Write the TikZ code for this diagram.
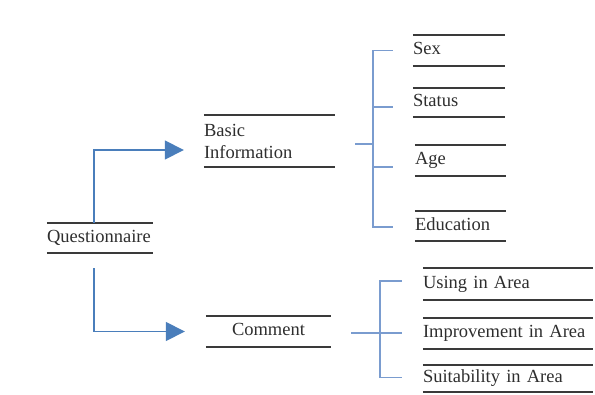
\documentclass[tikz,border=0pt]{standalone}
\usepackage{fontspec}
\setmainfont{Liberation Serif}
\usetikzlibrary{arrows.meta,calc}
\definecolor{ink}{HTML}{2E2E2E}
\definecolor{barc}{HTML}{3A3A3A}
\definecolor{arrowblue}{HTML}{4A7EBB}
\definecolor{brkblue}{HTML}{7A9CCF}
\tikzset{
  barline/.style={draw=barc,line width=2.2pt},
  bar/.style 2 args={minimum width=#1,text width=#1,minimum height=#2,inner sep=0pt,
    align=left,text=ink,font=\fontsize{18.5}{22}\selectfont,
    append after command={(\tikzlastnode.north west) edge[barline] (\tikzlastnode.north east)
      (\tikzlastnode.south west) edge[barline] (\tikzlastnode.south east)}},
  fixed/.style={text height=12pt,text depth=4pt},
  flow/.style={draw=arrowblue,line width=1.6pt,-{Triangle[length=19pt,width=19pt]}},
  brk/.style={draw=brkblue,line width=1.3pt},
}
\begin{document}
\begin{tikzpicture}[x=1pt,y=-1pt]
\useasboundingbox (0,0) rectangle (595,394);
% left level
\node[bar={106pt}{30pt},fixed] (q) at (100,238) {Questionnaire};
\node[bar={131pt}{52pt}] (basic) at (269.5,141) {Basic\\Information};
\node[bar={125pt}{31pt},fixed,align=center] (comment) at (268.5,331.5) {Comment};
% right level
\node[bar={92pt}{31pt},fixed] (sex) at (459,50.5) {Sex};
\node[bar={92pt}{29pt},fixed] (status) at (459,102.5) {Status};
\node[bar={91pt}{31pt},fixed] (age) at (460.5,160.5) {Age};
\node[bar={91pt}{30pt},fixed] (edu) at (460.5,226) {Education};
\node[bar={170pt}{32pt},fixed] (using) at (508,284) {Using in Area};
\node[bar={170pt}{31pt},fixed] (impr) at (508,333.5) {Improvement in Area};
\node[bar={170pt}{27pt},fixed] (suit) at (508,378.5) {Suitability in Area};
% main arrows
\draw[flow,shorten >=20pt] ([xshift=-6pt]q.north) |- ([yshift=-9pt]basic.west);
\draw[flow,shorten <=15pt,shorten >=21pt] ([xshift=-6pt]q.south) |- (comment.west);
% bracket for basic information
\coordinate (bA) at (373,144);
\draw[brk] ([xshift=20pt]bA -| basic.east) -- (bA);
\draw[brk] ([xshift=-20pt]sex.west) -| (bA) |- ([xshift=-22pt,yshift=-1pt]edu.west);
\draw[brk] ([yshift=-4.5pt]bA |- status.west) -- ([xshift=-20pt,yshift=-4.5pt]status.west);
\draw[brk] ([yshift=-6.5pt]bA |- age.west) -- ([xshift=-22pt,yshift=-6.5pt]age.west);
% bracket for comment
\coordinate (bB) at (380,333);
\draw[brk] ([xshift=20pt]bB -| comment.east) -- (bB);
\draw[brk] ([xshift=-21pt,yshift=3pt]using.west) -| (bB) |- ([xshift=-21pt,yshift=1pt]suit.west);
\draw[brk] (bB) -- ([xshift=-21pt]bB -| impr.west);
\end{tikzpicture}
\end{document}
